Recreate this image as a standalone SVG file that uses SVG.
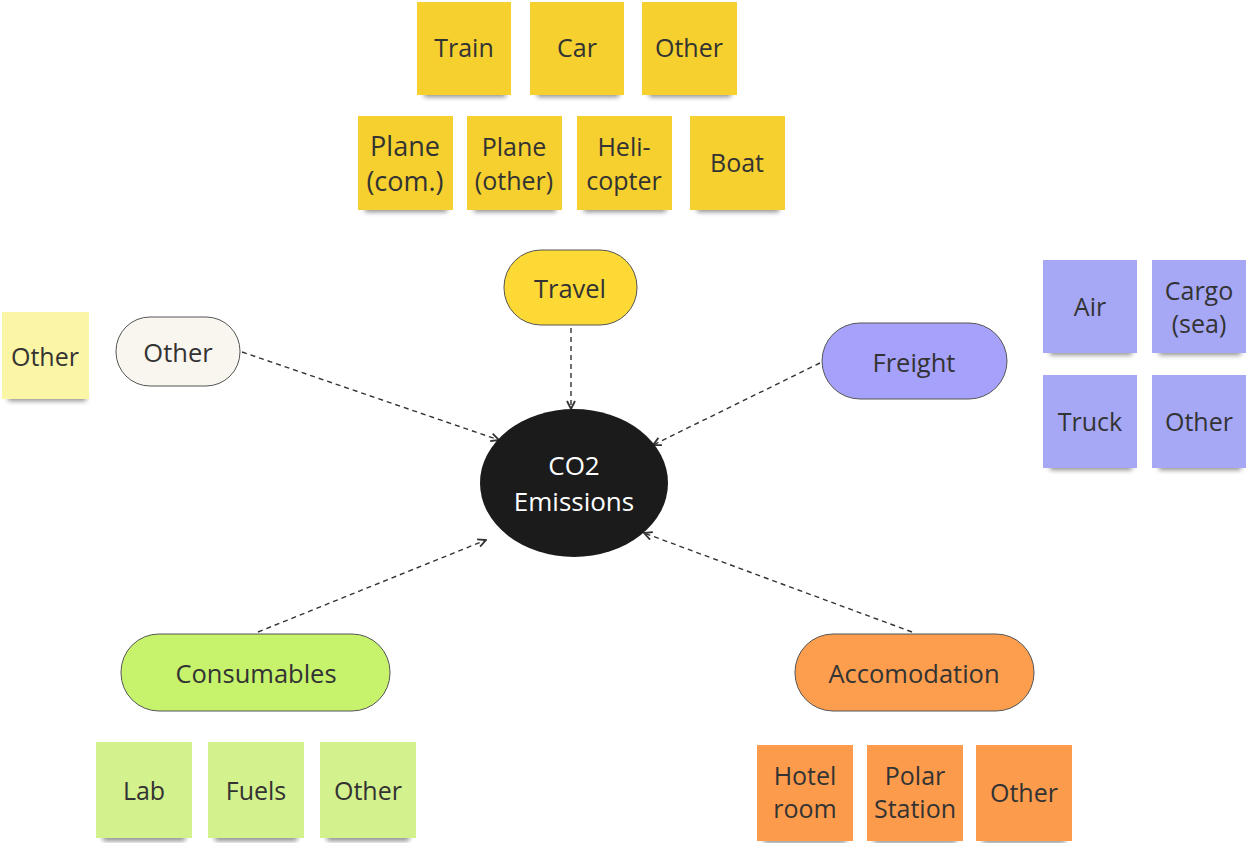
<svg xmlns="http://www.w3.org/2000/svg" width="1246" height="843" viewBox="0 0 1246 843">
<defs>
<filter id="blur" x="-20%" y="-200%" width="140%" height="500%"><feGaussianBlur stdDeviation="2.5"/></filter>
<marker id="arr" viewBox="0 0 10 10" refX="9" refY="5" markerWidth="10" markerHeight="10" markerUnits="userSpaceOnUse" orient="auto"><path d="M1,1 L9,5 L1,9" fill="none" stroke="#333" stroke-width="1.8"/></marker>
</defs>
<style>
text{font-family:"Open Sans","Noto Sans","Liberation Sans",sans-serif;font-size:25px;fill:#333;text-anchor:middle;dominant-baseline:central}
.pl{font-size:25.5px}
.sh{fill:#000;opacity:0.45;filter:url(#blur)}
.y{fill:#f5d02e}.p{fill:#a6a8f6}.g{fill:#d3f18d}.o{fill:#fd9b4c}.ly{fill:#fbf5a6}
.pill{stroke:#555;stroke-width:1}
.con{fill:none;stroke:#333;stroke-width:1.4;stroke-dasharray:5 4;marker-end:url(#arr)}
</style>
<rect width="1246" height="843" fill="#fff"/>

<g id="connectors">
<path class="con" d="M571,328 L571,409"/>
<path class="con" d="M242,352 L499,440"/>
<path class="con" d="M820,363 L653,445"/>
<path class="con" d="M258,632 L486,540"/>
<path class="con" d="M912,632 L644,533"/>
</g>

<g id="co2"><ellipse cx="574" cy="483" rx="94" ry="74" fill="#1b1b1b"/><text x="574" y="465" style="fill:#fff;font-size:26px">CO2</text><text x="574" y="501" style="fill:#fff;font-size:26px">Emissions</text></g>

<g id="travel"><rect class="pill" x="504" y="250" width="133" height="75" rx="37" fill="#fcd934"/><text class="pl" x="570" y="288">Travel</text></g>
<g id="other-pill"><rect class="pill" x="116" y="317" width="124" height="69" rx="34" fill="#f9f6ef"/><text class="pl" x="178" y="352">Other</text></g>
<g id="freight"><rect class="pill" x="822" y="323" width="185" height="76" rx="38" fill="#a6a1fb"/><text class="pl" x="914" y="362">Freight</text></g>
<g id="consumables"><rect class="pill" x="121" y="634" width="269" height="77" rx="38" fill="#c6f26c"/><text class="pl" x="256" y="673">Consumables</text></g>
<g id="accomodation"><rect class="pill" x="795" y="634" width="239" height="77" rx="38" fill="#fc9e4e"/><text class="pl" x="914" y="673">Accomodation</text></g>

<g id="s-train"><rect class="sh" x="424" y="90" width="82" height="7"/><rect class="y" x="417" y="2" width="94" height="93"/><text x="464" y="47">Train</text></g>
<g id="s-car"><rect class="sh" x="537" y="90" width="82" height="7"/><rect class="y" x="530" y="2" width="94" height="93"/><text x="577" y="47">Car</text></g>
<g id="s-other1"><rect class="sh" x="649" y="90" width="82" height="7"/><rect class="y" x="642" y="2" width="95" height="93"/><text x="689" y="47">Other</text></g>

<g id="s-planecom"><rect class="sh" x="365" y="205" width="82" height="7"/><rect class="y" x="358" y="116" width="95" height="94"/><text x="405" y="145" style="font-size:27px">Plane</text><text x="405" y="180" style="font-size:27px">(com.)</text></g>
<g id="s-planeother"><rect class="sh" x="474" y="205" width="82" height="7"/><rect class="y" x="467" y="116" width="95" height="94"/><text x="514" y="146">Plane</text><text x="514" y="180">(other)</text></g>
<g id="s-heli"><rect class="sh" x="584" y="205" width="82" height="7"/><rect class="y" x="577" y="116" width="95" height="94"/><text x="624" y="146">Heli-</text><text x="624" y="180">copter</text></g>
<g id="s-boat"><rect class="sh" x="697" y="205" width="82" height="7"/><rect class="y" x="690" y="116" width="95" height="94"/><text x="737" y="162">Boat</text></g>

<g id="s-otherleft"><rect class="sh" x="8" y="394" width="78" height="7"/><rect class="ly" x="2" y="312" width="87" height="87"/><text x="45" y="356">Other</text></g>

<g id="s-air"><rect class="sh" x="1050" y="348" width="82" height="7"/><rect class="p" x="1043" y="260" width="94" height="93"/><text x="1090" y="306">Air</text></g>
<g id="s-cargo"><rect class="sh" x="1159" y="348" width="82" height="7"/><rect class="p" x="1152" y="260" width="94" height="93"/><text x="1199" y="290">Cargo</text><text x="1199" y="323">(sea)</text></g>
<g id="s-truck"><rect class="sh" x="1050" y="463" width="82" height="7"/><rect class="p" x="1043" y="375" width="94" height="93"/><text x="1090" y="421">Truck</text></g>
<g id="s-otherfr"><rect class="sh" x="1159" y="463" width="82" height="7"/><rect class="p" x="1152" y="375" width="94" height="93"/><text x="1199" y="421">Other</text></g>

<g id="s-lab"><rect class="sh" x="103" y="834" width="82" height="7"/><rect class="g" x="96" y="742" width="96" height="96"/><text x="144" y="790">Lab</text></g>
<g id="s-fuels"><rect class="sh" x="215" y="834" width="82" height="7"/><rect class="g" x="208" y="742" width="96" height="96"/><text x="256" y="790">Fuels</text></g>
<g id="s-otherc"><rect class="sh" x="327" y="834" width="82" height="7"/><rect class="g" x="320" y="742" width="96" height="96"/><text x="368" y="790">Other</text></g>

<g id="s-hotel"><rect class="sh" x="764" y="836" width="82" height="7"/><rect class="o" x="757" y="745" width="96" height="96"/><text x="805" y="775">Hotel</text><text x="805" y="808">room</text></g>
<g id="s-polar"><rect class="sh" x="874" y="836" width="82" height="7"/><rect class="o" x="867" y="745" width="96" height="96"/><text x="915" y="775">Polar</text><text x="915" y="808">Station</text></g>
<g id="s-othera"><rect class="sh" x="983" y="836" width="82" height="7"/><rect class="o" x="976" y="745" width="96" height="96"/><text x="1024" y="792">Other</text></g>
</svg>
